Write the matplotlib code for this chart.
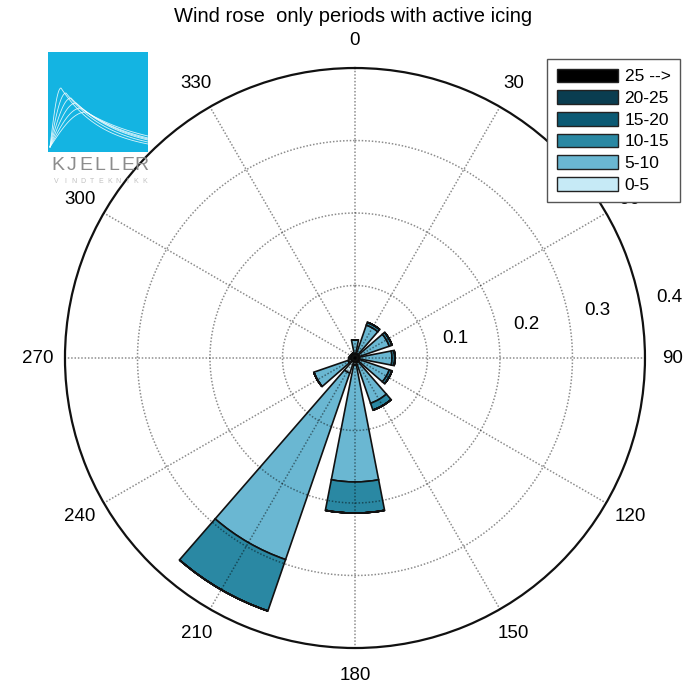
import numpy as np
import matplotlib
matplotlib.use('Agg')
import matplotlib.pyplot as plt
from matplotlib.patches import Patch

plt.rcParams['font.family'] = ['Liberation Sans', 'DejaVu Sans']

# %%
# Wind rose data: frequency per direction sector, split by speed class
dirs = [0, 30, 60, 90, 120, 150, 180, 210, 240, 270, 300, 330]
speed_labels = ['0-5', '5-10', '10-15', '15-20', '20-25', '25 -->']
s0_5 = [0.006, 0.006, 0.006, 0.006, 0.006, 0.006, 0.010, 0.022, 0.010, 0.005, 0.004, 0.004]
s5_10 = [0.019, 0.042, 0.044, 0.045, 0.044, 0.060, 0.161, 0.272, 0.050, 0.003, 0.003, 0.003]
s10_15 = [0.0, 0.004, 0.004, 0.004, 0.004, 0.010, 0.043, 0.075, 0.0, 0.0, 0.0, 0.0]
s15_20 = [0.0] * 12
s20_25 = [0.0] * 12
s25 = [0.0] * 12
speed_colors = ['#c6eaf6', '#6ab7d2', '#2a88a3', '#0b5a74', '#0a3d50', '#000000']

rings = [0.1, 0.2, 0.3, 0.4]

# %%
fig = plt.figure(figsize=(6.89, 6.85), dpi=100)
ax = fig.add_axes([0.0943, 0.054, 0.8418, 0.8467], projection='polar')
ax.set_theta_zero_location('N')
ax.set_theta_direction(-1)

theta = np.radians(dirs)
width = np.radians(22)
bottom = np.zeros(len(dirs))
for vals, col in zip([s0_5, s5_10, s10_15, s15_20, s20_25, s25], speed_colors):
    vals = np.array(vals)
    ax.bar(theta, vals, width=width, bottom=bottom, color=col,
           edgecolor='#111111', linewidth=1.2, zorder=1)
    bottom = bottom + vals

# dotted grid drawn by hand so it sits on top of the bars
ax.grid(False)
ax.set_xticks([])
ax.set_yticks([])
circ = np.linspace(0, 2 * np.pi, 361)
for r in rings[:-1]:
    ax.plot(circ, np.full_like(circ, r), linestyle=(0, (1, 1.2)), color='black',
            alpha=0.45, linewidth=1.1, zorder=5)
for th in theta:
    ax.plot([th, th], [0, rings[-1]], linestyle=(0, (1, 1.2)), color='black',
            alpha=0.45, linewidth=1.1, zorder=5)
ax.set_ylim(0, 0.4)
ax.spines['polar'].set_linewidth(1.6)
ax.spines['polar'].set_color('#111111')

for d in dirs:
    ax.text(np.radians(d), 0.438, str(d), ha='center', va='center',
            fontsize=13.5, clip_on=False)
for v in rings:
    ax.text(np.radians(79), v + 0.041, f'{v:g}', ha='center', va='center',
            fontsize=13.5, clip_on=False)

fig.text(0.512, 1 - 16 / 685, 'Wind rose  only periods with active icing',
         ha='center', va='center', fontsize=14.5)

# legend (largest class on top)
handles = [Patch(facecolor=c, edgecolor='#222222', linewidth=1.0) for c in speed_colors]
leg = fig.legend(handles[::-1], speed_labels[::-1], loc='upper right',
                 bbox_to_anchor=(680 / 689, 1 - 59 / 685), borderaxespad=0,
                 fontsize=12.5, handlelength=3.5, handleheight=0.85,
                 handletextpad=0.4, labelspacing=0.33, borderpad=0.55,
                 fancybox=False, framealpha=1, edgecolor='#555555')
leg.get_frame().set_linewidth(1.0)

# logo
lax = fig.add_axes([48 / 689, 1 - 152 / 685, 100 / 689, 100 / 685])
lax.set_facecolor('#14b4e2')
lax.set_xlim(0, 1)
lax.set_ylim(0, 1)
lax.set_xticks([])
lax.set_yticks([])
for s in lax.spines.values():
    s.set_visible(False)
peaks = [(0.13, 0.64, 0.08), (0.18, 0.59, 0.10), (0.23, 0.54, 0.12),
         (0.28, 0.49, 0.13), (0.33, 0.44, 0.14), (0.38, 0.40, 0.16)]
for p, h, e in peaks:
    xl = np.linspace(0.02, p, 40)
    yl = 0.05 + (h - 0.05) * np.sin(np.pi / 2 * (xl - 0.02) / (p - 0.02))
    xr = np.linspace(p, 1.0, 80)
    w = (1 - p) / np.log(h / e)
    yr = h * np.exp(-(xr - p) / w)
    lax.plot(np.r_[xl, xr], np.r_[yl, yr], color='white', linewidth=0.6, alpha=0.85)

for i, ch in enumerate('KJELLER'):
    fig.text((51 + i * 14.0 + 6.5) / 689, 1 - 166 / 685, ch, ha='center', va='center',
             fontsize=14, color='#8c8c8c')
for i, ch in enumerate('VINDTEKNIKK'):
    fig.text((52 + i * 8.9 + 4) / 689, 1 - 181 / 685, ch, ha='center', va='center',
             fontsize=5, color='#c0c0c0')

fig.savefig('out.png', dpi=100)
